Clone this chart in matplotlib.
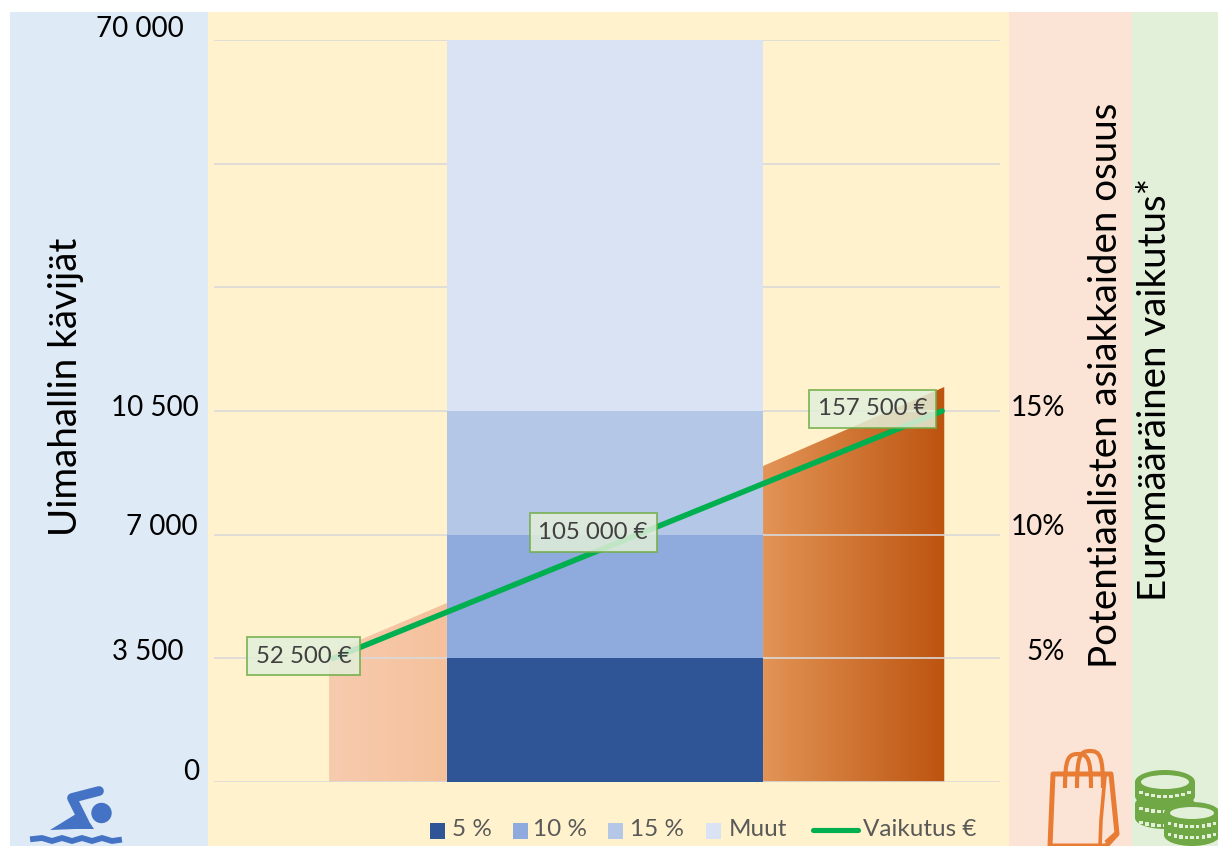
import matplotlib
matplotlib.use('Agg')
import matplotlib.pyplot as plt
import numpy as np
from matplotlib.patches import Rectangle, Polygon, Circle, Ellipse, PathPatch
from matplotlib.path import Path

plt.rcParams['font.family'] = ['Lato', 'DejaVu Sans']

# values
series_names = ['5 %', '10 %', '15 %', 'Muut']
series_values = [3500, 3500, 3500, 10500]   # top part is a cut axis, drawn up to the 70 000 line
series_colors = ['#2f5597', '#8faadc', '#b4c7e7', '#dae3f3']
share_x = [0, 1, 2]
impact_y = [3500, 7000, 10500]
impact_labels = ['52 500 €', '105 000 €', '157 500 €']
label_shift = [-21, -32, -50]
grid_levels = [0, 3500, 7000, 10500, 14000, 17500, 21000]
left_labels = ['70 000', '10 500', '7 000', '3 500', '0']
right_labels = ['15%', '10%', '5%']
area_left_x = [-0.013, 0.374]
area_left_y = [3650, 5066]
area_right_x = [1.412, 2.007]
area_right_y = [8943, 11179]
bar_x = 0.893
bar_w = 1.038

W, H = 1218, 846
fig = plt.figure(figsize=(W / 100, H / 100), dpi=100, facecolor='white')

# background layer in pixel coordinates
bg = fig.add_axes([0, 0, 1, 1], zorder=0)
bg.set_xlim(0, W)
bg.set_ylim(H, 0)
bg.axis('off')
bg.add_patch(Rectangle((10, 12), 198, H - 12, fc='#deeaf6', ec='none'))
bg.add_patch(Rectangle((208, 12), 801, H - 12, fc='#fff2cc', ec='none'))
bg.add_patch(Rectangle((1009, 12), 123, H - 12, fc='#fbe4d5', ec='none'))
bg.add_patch(Rectangle((1132, 12), 86, H - 12, fc='#e2efd9', ec='none'))

# main chart
ax = fig.add_axes([210 / W, (H - 782) / H, 790 / W, 742 / H], zorder=1)
ax.patch.set_alpha(0)


def gradient_area(xs, ys, c0, c1):
    poly = Polygon([(xs[0], 0), (xs[0], ys[0]), (xs[1], ys[1]), (xs[1], 0)],
                   closed=True, fc='none', ec='none', transform=ax.transData)
    ax.add_patch(poly)
    rgb0 = np.array(matplotlib.colors.to_rgb(c0))
    rgb1 = np.array(matplotlib.colors.to_rgb(c1))
    t = np.linspace(0, 1, 128)[:, None]
    img = (rgb0 + (rgb1 - rgb0) * t)[None, :, :]
    im = ax.imshow(img, extent=[xs[0], xs[1], 0, max(ys)], aspect='auto', zorder=1)
    im.set_clip_path(poly)


gradient_area(area_left_x, area_left_y, '#f7cbae', '#f5c19c')
gradient_area(area_right_x, area_right_y, '#e29456', '#bd5410')

for g in grid_levels:
    ax.plot([-0.39, 2.19], [g, g], color='#d9d9d9', lw=1.2, zorder=2, solid_capstyle='butt')

bottom = 0
for name, val, col in zip(series_names, series_values, series_colors):
    ax.bar(bar_x, val, bar_w, bottom=bottom, color=col, zorder=3, label=name)
    bottom += val

ax.plot(share_x, impact_y, color='#00b050', lw=4, zorder=4, solid_capstyle='round')

for x, y, s, dx in zip(share_x, impact_y, impact_labels, label_shift):
    ax.annotate(s, (x, y), xytext=(dx, 1.5), textcoords='offset points', ha='center', va='center',
                fontsize=17.3, color='#404040', zorder=5,
                bbox=dict(boxstyle='square,pad=0.36', fc='#e2efd9', ec='#70ad47', lw=1.3, alpha=0.85))

ax.set_xlim(-0.404, 2.19)
ax.set_ylim(0, 21000)
ax.axis('off')

# axis numbers were placed by hand in the original
for s, x, y in zip(left_labels, [184, 199, 198, 183, 199], [29, 408, 527, 652, 772]):
    bg.text(x, y, s, ha='right', va='center', fontsize=20, color='black')
for s, x, y in zip(right_labels, [1065, 1065, 1065], [408, 527, 652]):
    bg.text(x, y, s, ha='right', va='center', fontsize=20, color='black')
bg.text(66, 387, 'Uimahallin kävijät', rotation=90, ha='center', va='center', fontsize=27.8, color='black')
bg.text(1106, 385, 'Potentiaalisten asiakkaiden osuus', rotation=90, ha='center', va='center',
        fontsize=27.7, color='black')
bg.text(1155, 389, 'Euromääräinen vaikutus*', rotation=90, ha='center', va='center',
        fontsize=27.7, color='black')

# legend
for col, xs, s, xt in zip(series_colors, [430, 513, 608, 706], series_names, [452, 533, 630, 729]):
    bg.add_patch(Rectangle((xs, 823), 15, 16, fc=col, ec='none'))
    bg.text(xt, 830, s, ha='left', va='center', fontsize=17.5, color='#595959')
bg.plot([813, 858], [830, 830], color='#00b050', lw=3.7, solid_capstyle='round')
bg.text(863, 830, 'Vaikutus €', ha='left', va='center', fontsize=17.5, color='#595959')

# swimmer icon
blue = '#4472c4'
bg.add_patch(Circle((101.5, 813), 10.2, fc=blue, ec='none'))
bg.plot([99, 72, 84], [791, 798, 822], color=blue, lw=7, solid_capstyle='round', solid_joinstyle='round')
bg.add_patch(Polygon([(50, 830), (76, 814), (88, 820), (94, 829), (75, 829)], closed=True, fc=blue, ec='none'))
wave_x = [33, 42, 52, 62, 72, 82, 92, 102, 112, 119]
wave_y = [839, 838, 841, 838, 841, 838, 841, 838, 841, 840]
bg.plot(wave_x, wave_y, color=blue, lw=4.2)

# shopping bag icon
orange = '#e97c35'
bg.add_patch(Polygon([(1053, 774), (1111, 774), (1117, 834), (1106, 846), (1050, 846)], closed=True,
                     fc='none', ec=orange, lw=3.6, joinstyle='round'))
bg.plot([1105, 1101, 1100], [776, 820, 846], color=orange, lw=2.6)
bg.plot([1116, 1107], [833, 841], color=orange, lw=2.6)
for x0, x1, top in [(1065, 1091, 754), (1077, 1103, 751)]:
    verts = [(x0, 788), (x0, top + 5), (x0 + 3, top), ((x0 + x1) / 2, top), (x1 - 3, top), (x1, top + 5), (x1, 788)]
    codes = [Path.MOVETO, Path.CURVE4, Path.CURVE4, Path.CURVE4, Path.CURVE4, Path.CURVE4, Path.CURVE4]
    bg.add_patch(PathPatch(Path(verts, codes), fc='none', ec=orange, lw=3))


# coins icon
def coin(cx, cy, rx, ry, h, rows, z, inner=True):
    green = '#6fa845'
    back = '#e2efd9'
    bg.add_patch(Rectangle((cx - rx, cy), 2 * rx, h, fc=green, ec='none', zorder=z))
    bg.add_patch(Ellipse((cx, cy + h), 2 * rx, 2 * ry, fc=green, ec='none', zorder=z))
    bg.add_patch(Ellipse((cx, cy), 2 * rx, 2 * ry, fc=green, ec='none', zorder=z))
    if inner:
        bg.add_patch(Ellipse((cx, cy), 2 * rx - 12, 2 * ry - 10, fc=back, ec='none', zorder=z + 0.1))
    for base in rows:
        for i in range(-4, 5):
            px = cx + i * (rx / 5)
            py = base + ry * 0.8 * (1 - (i / 5) ** 2) ** 0.5
            bg.add_patch(Rectangle((px - 1.7, py - 1.7), 3.4, 3.4, fc=back, ec='none', zorder=z + 0.1))


coin(1165, 804, 30, 11, 14, [803, 817], 3, inner=False)
coin(1165, 782, 30, 12, 14, [787], 4)
coin(1192, 813, 28, 11, 22, [818, 829], 5)

fig.savefig('out.png', dpi=100)
